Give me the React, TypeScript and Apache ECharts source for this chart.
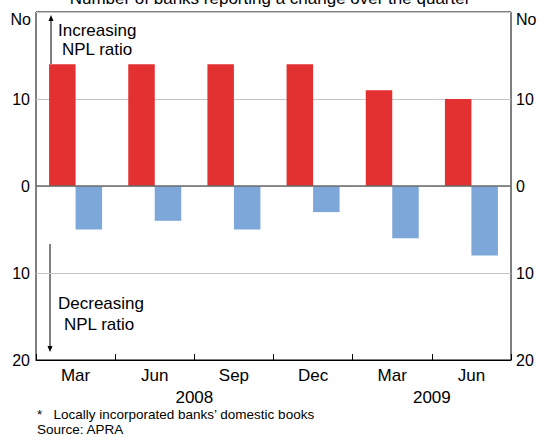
import React, { useEffect, useRef } from "react";
import * as echarts from "echarts";

const categories = ["Mar", "Jun", "Sep", "Dec", "Mar", "Jun"];
const increasing = [14, 14, 14, 14, 11, 10];
const decreasing = [-5, -4, -5, -3, -6, -8];
const yearLabels = [
  { text: "2008", index: 1.5 },
  { text: "2009", index: 4.5 },
];

const FONT = "Liberation Sans, Arial, Helvetica, sans-serif";

export default function App() {
  const ref = useRef<HTMLDivElement>(null);
  useEffect(() => {
    if (!ref.current) return;
    const chart = echarts.init(ref.current, null, { renderer: "svg" });
    const gridLeft = 36;
    const gridRight = 29;
    const plotW = 540 - gridLeft - gridRight;
    const catW = plotW / categories.length;
    const yAxisCommon = {
      type: "value" as const,
      min: -20,
      max: 20,
      interval: 10,
      axisLine: { show: false },
      axisTick: { show: false },
      splitLine: { show: true, lineStyle: { color: "#c4c4c4", width: 1 } },
      axisLabel: {
        formatter: (v: number) => String(Math.abs(v)),
        color: "#000",
        fontSize: 16,
        fontFamily: FONT,
        margin: 6,
        showMaxLabel: false,
      },
    };
    chart.setOption({
      animation: false,
      grid: {
        left: gridLeft,
        right: gridRight,
        top: 12,
        bottom: 77,
        show: true,
        borderColor: "#000",
        borderWidth: 1,
        backgroundColor: "transparent",
      },
      xAxis: {
        type: "category",
        data: categories,
        boundaryGap: true,
        axisLine: { show: true, onZero: false, lineStyle: { color: "#000", width: 1 } },
        axisTick: { show: true, inside: true, length: 6, lineStyle: { color: "#000" } },
        axisLabel: { color: "#000", fontSize: 17, fontFamily: FONT, margin: 7 },
        splitLine: { show: false },
      },
      yAxis: [
        { ...yAxisCommon, position: "left" },
        { ...yAxisCommon, position: "right", splitLine: { show: false }, axisLabel: { ...yAxisCommon.axisLabel, margin: 5 } },
      ],
      series: [
        {
          type: "bar",
          data: increasing,
          barWidth: 26.5,
          barGap: "0%",
          itemStyle: { color: "#e33030" },
          markLine: {
            silent: true,
            symbol: "none",
            label: { show: false },
            lineStyle: { color: "#6b6b6b", width: 1.5, type: "solid" },
            data: [{ yAxis: 0 }],
          },
        },
        {
          type: "bar",
          data: decreasing,
          barWidth: 26.5,
          barGap: "0%",
          itemStyle: { color: "#7ea7d9" },
        },
      ],
      graphic: [
        {
          type: "text",
          x: 270,
          y: 6.5,
          style: {
            text: "Number of banks reporting a change over the quarter",
            fill: "#000",
            font: `17px ${FONT}`,
            textAlign: "center",
            textVerticalAlign: "bottom",
          },
        },
        {
          type: "text",
          x: 31,
          y: 19,
          style: { text: "No", fill: "#000", font: `16px ${FONT}`, textAlign: "right", textVerticalAlign: "middle" },
        },
        {
          type: "text",
          x: 516,
          y: 19,
          style: { text: "No", fill: "#000", font: `16px ${FONT}`, textAlign: "left", textVerticalAlign: "middle" },
        },
        // up arrow
        { type: "line", shape: { x1: 51, y1: 64, x2: 51, y2: 19 }, style: { stroke: "#000", lineWidth: 1 } },
        { type: "polygon", shape: { points: [[51, 15], [48.5, 21], [53.5, 21]] }, style: { fill: "#000" } },
        {
          type: "text",
          x: 58,
          y: 30,
          style: { text: "Increasing", fill: "#000", font: `17px ${FONT}`, textVerticalAlign: "middle" },
        },
        {
          type: "text",
          x: 62,
          y: 49,
          style: { text: "NPL ratio", fill: "#000", font: `17px ${FONT}`, textVerticalAlign: "middle" },
        },
        // down arrow
        { type: "line", shape: { x1: 50, y1: 244, x2: 50, y2: 347 }, style: { stroke: "#000", lineWidth: 1 } },
        { type: "polygon", shape: { points: [[50, 352], [47.5, 346], [52.5, 346]] }, style: { fill: "#000" } },
        {
          type: "text",
          x: 58,
          y: 303,
          style: { text: "Decreasing", fill: "#000", font: `17px ${FONT}`, textVerticalAlign: "middle" },
        },
        {
          type: "text",
          x: 64,
          y: 324,
          style: { text: "NPL ratio", fill: "#000", font: `17px ${FONT}`, textVerticalAlign: "middle" },
        },
        ...yearLabels.map((y) => ({
          type: "text",
          x: gridLeft + catW * (y.index + 0.5),
          y: 397,
          style: { text: y.text, fill: "#000", font: `17px ${FONT}`, textAlign: "center", textVerticalAlign: "middle" },
        })),
        {
          type: "text",
          x: 37,
          y: 414.5,
          style: { text: "*   Locally incorporated banks’ domestic books", fill: "#000", font: `13.5px ${FONT}`, textVerticalAlign: "middle" },
        },
        {
          type: "text",
          x: 37,
          y: 429.5,
          style: { text: "Source: APRA", fill: "#000", font: `13.5px ${FONT}`, textVerticalAlign: "middle" },
        },
      ],
    });
    return () => chart.dispose();
  }, []);
  return <div ref={ref} style={{ width: 540, height: 437, position: "absolute", left: 0, top: 0 }} />;
}
